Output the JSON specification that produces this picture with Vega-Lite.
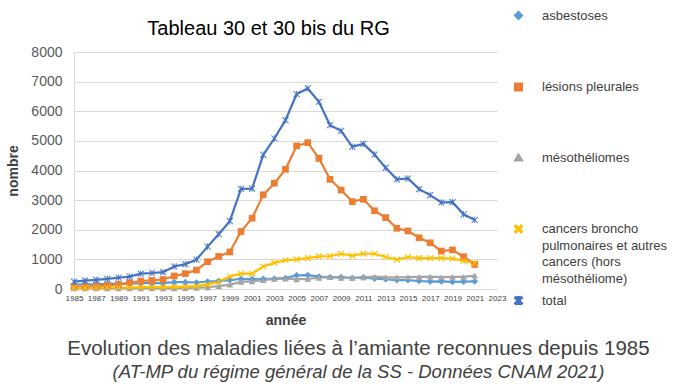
{
  "$schema": "https://vega.github.io/schema/vega-lite/v6.json",
  "background": "white",
  "padding": {"left": 6, "top": 9, "right": 5, "bottom": 5},
  "config": {"view": {"stroke": null}, "font": "Liberation Sans"},
  "title": {
    "text": "Evolution des maladies liées à l’amiante reconnues depuis 1985",
    "subtitle": "(AT-MP du régime général de la SS - Données CNAM 2021)",
    "orient": "bottom",
    "anchor": "middle",
    "dx": 21,
    "fontSize": 20.5,
    "fontWeight": "normal",
    "color": "#404040",
    "subtitleFontSize": 18.5,
    "subtitleFontStyle": "italic",
    "subtitleColor": "#404040",
    "subtitlePadding": 3,
    "offset": 12
  },
  "vconcat": [
    {
      "width": 423,
      "height": 237,
      "title": {"text": "Tableau 30 et 30 bis du RG", "fontSize": 20, "fontWeight": "normal", "color": "#000000", "offset": 6, "dx": -17},
      "data": {
        "values": [
          {"annee": 1985, "asbestoses": 150, "lésions pleurales": 60, "mésothéliomes": 20, "cancers": 30, "total": 250},
          {"annee": 1986, "asbestoses": 160, "lésions pleurales": 80, "mésothéliomes": 20, "cancers": 40, "total": 280},
          {"annee": 1987, "asbestoses": 160, "lésions pleurales": 100, "mésothéliomes": 20, "cancers": 40, "total": 310},
          {"annee": 1988, "asbestoses": 170, "lésions pleurales": 120, "mésothéliomes": 20, "cancers": 50, "total": 340},
          {"annee": 1989, "asbestoses": 180, "lésions pleurales": 150, "mésothéliomes": 20, "cancers": 50, "total": 380},
          {"annee": 1990, "asbestoses": 180, "lésions pleurales": 210, "mésothéliomes": 20, "cancers": 50, "total": 420},
          {"annee": 1991, "asbestoses": 200, "lésions pleurales": 270, "mésothéliomes": 20, "cancers": 60, "total": 520},
          {"annee": 1992, "asbestoses": 200, "lésions pleurales": 290, "mésothéliomes": 20, "cancers": 60, "total": 540},
          {"annee": 1993, "asbestoses": 200, "lésions pleurales": 320, "mésothéliomes": 20, "cancers": 60, "total": 570},
          {"annee": 1994, "asbestoses": 230, "lésions pleurales": 440, "mésothéliomes": 20, "cancers": 70, "total": 760},
          {"annee": 1995, "asbestoses": 230, "lésions pleurales": 520, "mésothéliomes": 30, "cancers": 80, "total": 840},
          {"annee": 1996, "asbestoses": 220, "lésions pleurales": 640, "mésothéliomes": 40, "cancers": 100, "total": 990},
          {"annee": 1997, "asbestoses": 250, "lésions pleurales": 920, "mésothéliomes": 60, "cancers": 150, "total": 1430},
          {"annee": 1998, "asbestoses": 270, "lésions pleurales": 1100, "mésothéliomes": 100, "cancers": 250, "total": 1850},
          {"annee": 1999, "asbestoses": 300, "lésions pleurales": 1250, "mésothéliomes": 150, "cancers": 420, "total": 2290},
          {"annee": 2000, "asbestoses": 340, "lésions pleurales": 1940, "mésothéliomes": 240, "cancers": 520, "total": 3380},
          {"annee": 2001, "asbestoses": 330, "lésions pleurales": 2390, "mésothéliomes": 260, "cancers": 520, "total": 3390},
          {"annee": 2002, "asbestoses": 340, "lésions pleurales": 3180, "mésothéliomes": 300, "cancers": 760, "total": 4530},
          {"annee": 2003, "asbestoses": 350, "lésions pleurales": 3570, "mésothéliomes": 340, "cancers": 880, "total": 5080},
          {"annee": 2004, "asbestoses": 370, "lésions pleurales": 4040, "mésothéliomes": 350, "cancers": 970, "total": 5700},
          {"annee": 2005, "asbestoses": 460, "lésions pleurales": 4830, "mésothéliomes": 330, "cancers": 1000, "total": 6580},
          {"annee": 2006, "asbestoses": 470, "lésions pleurales": 4940, "mésothéliomes": 340, "cancers": 1040, "total": 6770},
          {"annee": 2007, "asbestoses": 420, "lésions pleurales": 4410, "mésothéliomes": 380, "cancers": 1100, "total": 6320},
          {"annee": 2008, "asbestoses": 400, "lésions pleurales": 3700, "mésothéliomes": 400, "cancers": 1110, "total": 5530},
          {"annee": 2009, "asbestoses": 400, "lésions pleurales": 3340, "mésothéliomes": 380, "cancers": 1190, "total": 5340},
          {"annee": 2010, "asbestoses": 370, "lésions pleurales": 2950, "mésothéliomes": 380, "cancers": 1130, "total": 4800},
          {"annee": 2011, "asbestoses": 390, "lésions pleurales": 3030, "mésothéliomes": 390, "cancers": 1190, "total": 4900},
          {"annee": 2012, "asbestoses": 350, "lésions pleurales": 2640, "mésothéliomes": 420, "cancers": 1190, "total": 4540},
          {"annee": 2013, "asbestoses": 330, "lésions pleurales": 2410, "mésothéliomes": 400, "cancers": 1080, "total": 4090},
          {"annee": 2014, "asbestoses": 300, "lésions pleurales": 2050, "mésothéliomes": 390, "cancers": 990, "total": 3700},
          {"annee": 2015, "asbestoses": 300, "lésions pleurales": 1960, "mésothéliomes": 400, "cancers": 1080, "total": 3730},
          {"annee": 2016, "asbestoses": 270, "lésions pleurales": 1730, "mésothéliomes": 410, "cancers": 1040, "total": 3370},
          {"annee": 2017, "asbestoses": 250, "lésions pleurales": 1560, "mésothéliomes": 420, "cancers": 1040, "total": 3170},
          {"annee": 2018, "asbestoses": 260, "lésions pleurales": 1280, "mésothéliomes": 400, "cancers": 1040, "total": 2920},
          {"annee": 2019, "asbestoses": 240, "lésions pleurales": 1320, "mésothéliomes": 410, "cancers": 1030, "total": 2930},
          {"annee": 2020, "asbestoses": 250, "lésions pleurales": 1090, "mésothéliomes": 410, "cancers": 950, "total": 2520},
          {"annee": 2021, "asbestoses": 260, "lésions pleurales": 830, "mésothéliomes": 450, "cancers": 870, "total": 2330}
        ]
      },
      "transform": [
        {"fold": ["asbestoses", "lésions pleurales", "mésothéliomes", "cancers", "total"], "as": ["serie", "valeur"]}
      ],
      "encoding": {
        "x": {
          "field": "annee",
          "type": "quantitative",
          "scale": {"domain": [1985, 2023], "nice": false, "zero": false},
          "axis": {
            "values": [1985, 1987, 1989, 1991, 1993, 1995, 1997, 1999, 2001, 2003, 2005, 2007, 2009, 2011, 2013, 2015, 2017, 2019, 2021, 2023],
            "format": "d",
            "labelFontSize": 8,
            "labelColor": "#404040",
            "labelOverlap": false,
            "labelFlush": false,
            "labelPadding": 5,
            "grid": false,
            "ticks": false,
            "tickSize": 0,
            "domain": true,
            "domainColor": "#d9d9d9",
            "title": "année",
            "titleFontSize": 14,
            "titleFontWeight": "bold",
            "titleColor": "#404040",
            "titlePadding": 11
          }
        },
        "y": {
          "field": "valeur",
          "type": "quantitative",
          "scale": {"domain": [0, 8000], "nice": false},
          "axis": {
            "values": [0, 1000, 2000, 3000, 4000, 5000, 6000, 7000, 8000],
            "format": "d",
            "grid": true,
            "gridColor": "#d9d9d9",
            "domain": true,
            "domainColor": "#d9d9d9",
            "ticks": false,
            "tickSize": 0,
            "labelFontSize": 14,
            "labelColor": "#595959",
            "labelPadding": 12,
            "title": "nombre",
            "titleFontSize": 14,
            "titleFontWeight": "bold",
            "titleColor": "#404040",
            "titlePadding": 10
          }
        },
        "color": {
          "field": "serie",
          "type": "nominal",
          "scale": {
            "domain": ["asbestoses", "lésions pleurales", "mésothéliomes", "cancers", "total"],
            "range": ["#5B9BD5", "#ED7D31", "#A5A5A5", "#FFC000", "#4472C4"]
          },
          "legend": {
            "orient": "none",
            "legendX": 438,
            "legendY": -43,
            "title": null,
            "padding": 0,
            "rowPadding": 5.5,
            "labelFontSize": 13,
            "labelColor": "#404040",
            "labelOffset": 17,
            "labelLimit": 300,
            "symbolSize": 50,
            "symbolStrokeWidth": 2,
            "labelExpr": "datum.label == 'cancers' ? ['cancers broncho', 'pulmonaires et autres', 'cancers (hors', 'mésothéliome)'] : datum.label == 'total' ? 'total' : [datum.label, '', '', '']",
            "encoding": {
              "labels": {
                "dy": {"value": 0},
                "lineHeight": {"value": 16.7}
              }
            }
          }
        }
      },
      "layer": [
        {"mark": {"type": "line", "strokeWidth": 2.2}},
        {
          "mark": {"type": "point", "filled": true, "opacity": 1, "size": 45},
          "encoding": {
            "shape": {
              "field": "serie",
              "type": "nominal",
              "scale": {
                "domain": ["asbestoses", "lésions pleurales", "mésothéliomes", "cancers", "total"],
                "range": [
                  "diamond",
                  "square",
                  "triangle-up",
                  "M-1,-0.75L-0.75,-1L0,-0.25L0.75,-1L1,-0.75L0.25,0L1,0.75L0.75,1L0,0.25L-0.75,1L-1,0.75L-0.25,0Z",
                  "M-1,-0.8L-0.8,-1L0,-0.2L0.8,-1L1,-0.8L0.2,0L1,0.8L0.8,1L0,0.2L-0.8,1L-1,0.8L-0.2,0Z M-0.12,-1L0.12,-1L0.12,1L-0.12,1Z"
                ]
              }
            }
          }
        }
      ]
    }
  ]
}
